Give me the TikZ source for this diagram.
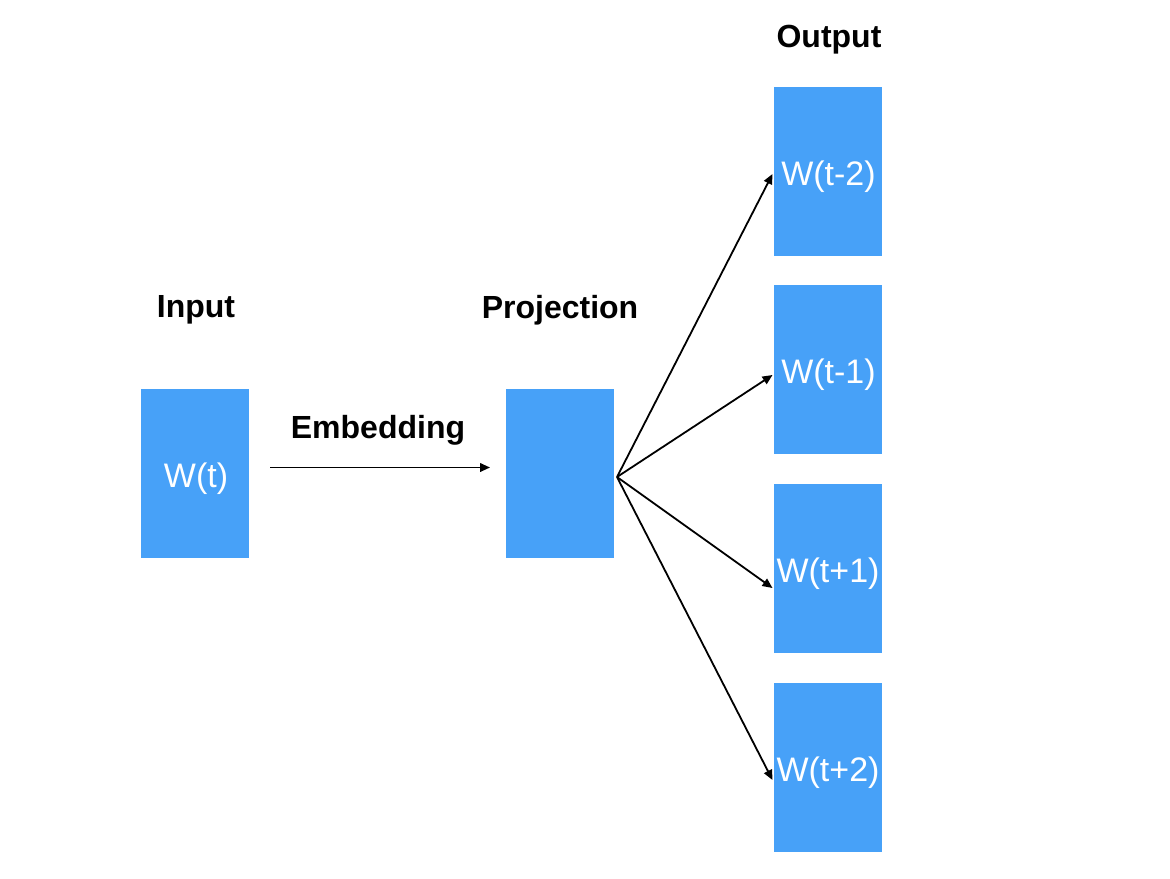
\documentclass[tikz,border=0pt]{standalone}
\usepackage{fontspec}
\setmainfont{Liberation Sans}
\usetikzlibrary{arrows.meta}
\definecolor{boxblue}{HTML}{47A1F8}
\begin{document}
\begin{tikzpicture}[x=0.75pt,y=-0.75pt,
  box/.style={fill=boxblue, draw=none, minimum width=81pt, minimum height=126.75pt,
    inner sep=0pt, text=white, font=\fontsize{25}{30}\selectfont,
    text height=18pt, text depth=0pt},
  wlabel/.style={text=white, font=\fontsize{25.5}{30}\selectfont, inner sep=0pt,
    text height=18pt, text depth=0pt},
  title/.style={font=\bfseries\fontsize{24}{29}\selectfont, inner sep=0pt,
    text height=17.2pt, text depth=0pt},
  arr/.style={-{Triangle[length=7.5pt,width=6.5pt]}, line width=1.35pt, black}]
\useasboundingbox (0,0) rectangle (1170,878);
\fill[white] (0,0) rectangle (1170,878);
% boxes
\node[box] (in) at (195,473.5) {};
\node[wlabel] (inl) at (196,475) {W(t)};
\node[box] (proj) at (560,473.5) {};
\node[box] (o1) at (828,171.5) {};
\node[wlabel] (o1l) at (828.5,173) {W(t-2)};
\node[box] (o2) at (828,369.5) {};
\node[wlabel] (o2l) at (828.5,371) {W(t-1)};
\node[box] (o3) at (828,568.5) {};
\node[wlabel] (o3l) at (828,570) {W(t+1)};
\node[box] (o4) at (828,767) {};
\node[wlabel] (o4l) at (828,769.5) {W(t+2)};
% titles
\node[title] (tin) at (196,306.5) {Input};
\node[title] (tproj) at (560,307) {Projection};
\node[title] (tout) at (829,36) {Output};
\node[title] (temb) at (378,427.5) {Embedding};
% connectors
\coordinate (e1) at (270,467.5);
\coordinate (e2) at (490,467.5);
\draw[arr] (e1) -- (e2);
\coordinate (f) at (617,477);
\coordinate (t1) at (772.5,174);
\coordinate (t2) at (772.5,375);
\coordinate (t3) at (772.5,588);
\coordinate (t4) at (772.5,780);
\draw[arr] (f) -- (t1);
\draw[arr] (f) -- (t2);
\draw[arr] (f) -- (t3);
\draw[arr] (f) -- (t4);
\end{tikzpicture}
\end{document}
